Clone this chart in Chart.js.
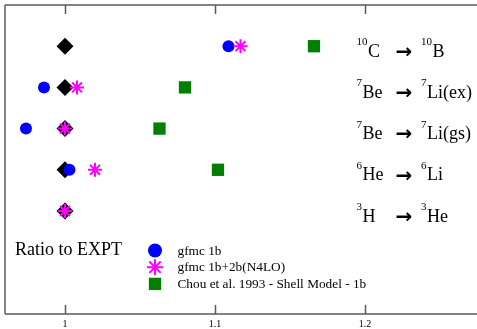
<!DOCTYPE html>
<html>
<head>
<meta charset="utf-8">
<script src="https://cdn.jsdelivr.net/npm/chart.js@4/dist/chart.umd.min.js"></script>
<style>
  html, body { margin: 0; padding: 0; background: #fff; }
</style>
</head>
<body>
<canvas id="chart" width="477" height="329"></canvas>
<script>
// rows, top to bottom
const rowY = [5, 4, 3, 2, 1];
const parentMass = ['10', '7', '7', '6', '3'];
const parentName = ['C', 'Be', 'Be', 'He', 'H'];
const daughterMass = ['10', '7', '7', '6', '3'];
const daughterName = ['B', 'Li(ex)', 'Li(gs)', 'Li', 'He'];

// ratio to experiment (null = no point)
const exptRatio = [1, 1, 1, 1, 1];
const gfmc1b = [1.109, 0.986, 0.974, 1.003, null];
const gfmc1b2b = [1.117, 1.008, 1.000, 1.020, 1.000];
const chouShell = [1.166, 1.080, 1.063, 1.102, null];

const xTicks = [1, 1.1, 1.2];
const legendLabels = ['gfmc 1b', 'gfmc 1b+2b(N4LO)', 'Chou et al. 1993 - Shell Model - 1b'];

const SERIF = '"Liberation Serif", "DejaVu Serif", serif';

function toPoints(values) {
    const pts = [];
    values.forEach((v, i) => {
        if (v !== null) pts.push({ x: v, y: rowY[i] });
    });
    return pts;
}

// marker styles (legend uses slightly bigger ones, like the original)
const SERIES = [
    { label: legendLabels[0], pointStyle: 'circle', radius: 6, legendRadius: 7, fill: '#0000ff', stroke: '#0000ff', bw: 0 },
    { label: legendLabels[1], pointStyle: 'star', radius: 7, legendRadius: 8, fill: '#ff00ff', stroke: '#ff00ff', bw: 2 },
    { label: legendLabels[2], pointStyle: 'rect', radius: 8.7, legendRadius: 8.7, fill: '#008000', stroke: '#008000', bw: 0 },
];

// frame with inward ticks on top and bottom, no right edge
const framePlugin = {
    id: 'frame',
    beforeDatasetsDraw(chart) {
        const { ctx, chartArea } = chart;
        const xs = chart.scales.x;
        const w = chart.width;
        ctx.save();
        ctx.strokeStyle = '#5a5a5a';
        ctx.lineWidth = 1.5;

        ctx.beginPath();
        ctx.moveTo(chartArea.left, chartArea.top);
        ctx.lineTo(w, chartArea.top);
        ctx.stroke();

        ctx.beginPath();
        ctx.moveTo(chartArea.left, chartArea.bottom);
        ctx.lineTo(w, chartArea.bottom);
        ctx.stroke();

        ctx.beginPath();
        ctx.moveTo(chartArea.left, chartArea.top);
        ctx.lineTo(chartArea.left, chartArea.bottom);
        ctx.stroke();

        ctx.beginPath();
        xTicks.forEach(v => {
            const px = Math.round(xs.getPixelForValue(v)) + 0.5;
            ctx.moveTo(px, chartArea.top);
            ctx.lineTo(px, chartArea.top + 9);
            ctx.moveTo(px, chartArea.bottom);
            ctx.lineTo(px, chartArea.bottom - 9);
        });
        ctx.stroke();
        ctx.restore();
    }
};

function drawNuclide(ctx, x, baseline, mass, name) {
    ctx.font = '11px ' + SERIF;
    ctx.fillText(mass, x, baseline - 11.5);
    const w = ctx.measureText(mass).width;
    ctx.font = '18px ' + SERIF;
    ctx.fillText(name, x + w + 0.5, baseline);
}

// transition labels on the right + legend box
const labelPlugin = {
    id: 'labels',
    afterDatasetsDraw(chart) {
        const { ctx } = chart;
        const ys = chart.scales.y;
        ctx.save();
        ctx.fillStyle = '#000';
        ctx.textBaseline = 'alphabetic';
        ctx.textAlign = 'left';

        rowY.forEach((y, i) => {
            const base = ys.getPixelForValue(y) + 10.5;
            drawNuclide(ctx, 356.5, base, parentMass[i], parentName[i]);
            ctx.font = 'bold 20px "DejaVu Sans"';
            ctx.textBaseline = 'middle';
            ctx.fillText('\u2192', 395.5, base - 4);
            ctx.textBaseline = 'alphabetic';
            drawNuclide(ctx, 421, base, daughterMass[i], daughterName[i]);
        });

        ctx.font = '18px ' + SERIF;
        ctx.fillText('Ratio to EXPT', 15, 255);

        ctx.font = '13.3px ' + SERIF;
        SERIES.forEach((s, i) => {
            const cy = 250.5 + i * 16.7;
            ctx.fillStyle = s.fill;
            ctx.strokeStyle = s.stroke;
            ctx.lineWidth = s.bw;
            Chart.helpers.drawPoint(ctx, {
                pointStyle: s.pointStyle, radius: s.legendRadius, rotation: 0, borderWidth: s.bw
            }, 155, cy);
            ctx.fillStyle = '#000';
            ctx.fillText(s.label, 177.5, cy + 4);
        });
        ctx.restore();
    }
};

function makeSet(s, values, order) {
    return {
        label: s.label,
        data: toPoints(values),
        pointStyle: s.pointStyle,
        pointRadius: s.radius,
        pointHoverRadius: s.radius,
        pointBackgroundColor: s.fill,
        pointBorderColor: s.stroke,
        pointBorderWidth: s.bw,
        showLine: false,
        order: order,
    };
}

new Chart(document.getElementById('chart'), {
    type: 'scatter',
    data: {
        datasets: [
            {
                label: 'EXPT',
                data: toPoints(exptRatio),
                pointStyle: 'rectRot',
                pointRadius: 8.5,
                pointHoverRadius: 8.5,
                pointBackgroundColor: '#000',
                pointBorderColor: '#000',
                pointBorderWidth: 0,
                showLine: false,
                order: 4,
            },
            makeSet(SERIES[0], gfmc1b, 3),
            makeSet(SERIES[1], gfmc1b2b, 2),
            makeSet(SERIES[2], chouShell, 1),
        ]
    },
    options: {
        responsive: false,
        animation: false,
        devicePixelRatio: 1,
        layout: { autoPadding: false, padding: { left: 5, top: 5, right: 0, bottom: 0 } },
        plugins: {
            legend: { display: false },
            tooltip: { enabled: false },
        },
        scales: {
            x: {
                type: 'linear',
                min: 0.96,
                max: 1.2747,
                grid: { display: false, drawTicks: false },
                border: { display: false },
                afterBuildTicks: (scale) => {
                    scale.ticks = xTicks.map(v => ({ value: v }));
                },
                afterFit: (scale) => {
                    scale.height = 15;
                },
                ticks: {
                    color: '#000',
                    padding: 4,
                    maxRotation: 0,
                    font: { family: SERIF, size: 10 },
                    callback: (v) => String(v),
                }
            },
            y: {
                type: 'linear',
                min: -1.5,
                max: 6.0,
                display: false,
            }
        }
    },
    plugins: [framePlugin, labelPlugin]
});
</script>
</body>
</html>
